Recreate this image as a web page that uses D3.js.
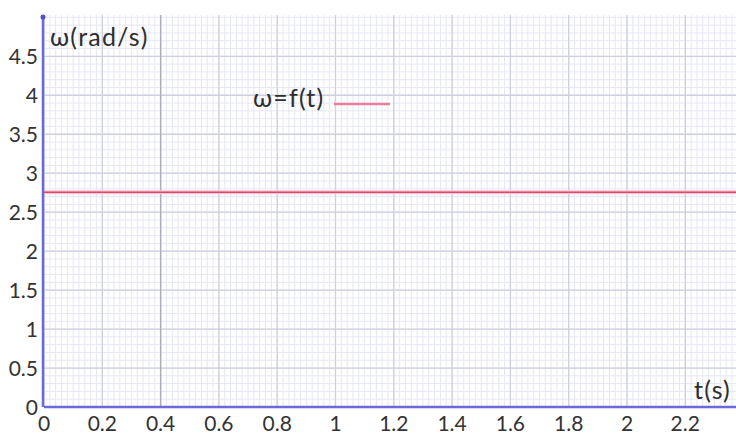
<!DOCTYPE html>
<html lang="en">
<head>
  <meta charset="UTF-8">
  <title>omega = f(t)</title>
  <style>
    body { margin: 0; background: #fff; }
    svg { display: block; }
    .tick-label { font-family: Lato, "Open Sans", sans-serif; font-size: 21px; fill: #333; }
    .axis-title { font-family: Lato, "Open Sans", sans-serif; font-size: 25px; fill: #2e2e2e; letter-spacing: 1.2px; }
  </style>
</head>
<body>
  <svg id="chart" width="736" height="435"></svg>

  <script src="https://cdn.jsdelivr.net/npm/d3@7"></script>
  <script>
    // data
    const tValues = [0, 2.374];
    const omegaValues = [2.755, 2.755];
    const xTicks = [0, 0.2, 0.4, 0.6, 0.8, 1, 1.2, 1.4, 1.6, 1.8, 2, 2.2];
    const yTicks = [0, 0.5, 1, 1.5, 2, 2.5, 3, 3.5, 4, 4.5];
    const cursorT = 0.4;

    const width = 736, height = 435;
    const margin = { top: 15, right: 0, bottom: 28, left: 44 };

    const svg = d3.select("#chart");

    const x = d3.scaleLinear()
      .domain([0, 2.374])
      .range([margin.left, width - margin.right]);

    const y = d3.scaleLinear()
      .domain([0, 5.03])
      .range([height - margin.bottom, margin.top]);

    const grid = svg.append("g");

    // minor grid
    const xMinor = d3.range(0, 2.374, 0.02);
    const yMinor = d3.range(0, 5.03, 0.1);
    grid.selectAll(".vminor").data(xMinor).join("line")
      .attr("x1", d => x(d)).attr("x2", d => x(d))
      .attr("y1", y(0)).attr("y2", margin.top)
      .attr("stroke", "#e7e7f6").attr("stroke-width", 1);
    grid.selectAll(".hminor").data(yMinor).join("line")
      .attr("x1", x(0)).attr("x2", width)
      .attr("y1", d => y(d)).attr("y2", d => y(d))
      .attr("stroke", "#e7e7f6").attr("stroke-width", 1);

    // major grid
    grid.selectAll(".vmajor").data(xTicks).join("line")
      .attr("x1", d => x(d)).attr("x2", d => x(d))
      .attr("y1", y(0)).attr("y2", margin.top)
      .attr("stroke", "#cecfdf").attr("stroke-width", 1.3);
    grid.selectAll(".hmajor").data(yTicks).join("line")
      .attr("x1", x(0)).attr("x2", width)
      .attr("y1", d => y(d)).attr("y2", d => y(d))
      .attr("stroke", "#cecfdf").attr("stroke-width", 1.3);

    // darker cursor line
    grid.append("line")
      .attr("x1", x(cursorT)).attr("x2", x(cursorT))
      .attr("y1", y(0)).attr("y2", margin.top)
      .attr("stroke", "#a9abbd").attr("stroke-width", 1.3);

    // the curve
    const line = d3.line().x(d => x(d[0])).y(d => y(d[1]));
    const pts = tValues.map((t, i) => [t, omegaValues[i]]);
    svg.append("path").datum(pts)
      .attr("d", line)
      .attr("fill", "none")
      .attr("stroke", "#f6c4d2").attr("stroke-width", 4);
    svg.append("path").datum(pts)
      .attr("d", line)
      .attr("fill", "none")
      .attr("stroke", "#d84a6a").attr("stroke-width", 1.6);

    // axes
    svg.append("line")
      .attr("x1", x(0)).attr("x2", width)
      .attr("y1", y(0)).attr("y2", y(0))
      .attr("stroke", "#6a6ad8").attr("stroke-width", 2.5);
    svg.append("line")
      .attr("x1", x(0) - 1).attr("x2", x(0) - 1)
      .attr("y1", y(0)).attr("y2", margin.top + 1)
      .attr("stroke", "#6a6ad8").attr("stroke-width", 2.5);
    svg.append("circle")
      .attr("cx", x(0) - 1).attr("cy", margin.top + 2).attr("r", 2.5)
      .attr("fill", "#5050c8");

    // tick labels
    svg.selectAll(".xl").data(xTicks).join("text")
      .attr("class", "tick-label")
      .attr("x", d => x(d))
      .attr("y", height - 4)
      .attr("text-anchor", "middle")
      .text(d => d3.format("~g")(d));
    svg.selectAll(".yl").data(yTicks).join("text")
      .attr("class", "tick-label")
      .attr("x", 38)
      .attr("y", d => y(d) + 8)
      .attr("text-anchor", "end")
      .text(d => d3.format("~g")(d));

    // titles
    svg.append("text").attr("class", "axis-title")
      .attr("x", 50).attr("y", 46).text("ω(rad/s)");
    svg.append("text").attr("class", "axis-title")
      .attr("x", 731).attr("y", 399).attr("text-anchor", "end").text("t(s)");

    // legend
    svg.append("text").attr("class", "axis-title")
      .attr("x", 253).attr("y", 107).text("ω=f(t)");
    svg.append("line")
      .attr("x1", 334).attr("x2", 390).attr("y1", 104).attr("y2", 104)
      .attr("stroke", "#ee7d98").attr("stroke-width", 2.5);
  </script>
</body>
</html>
